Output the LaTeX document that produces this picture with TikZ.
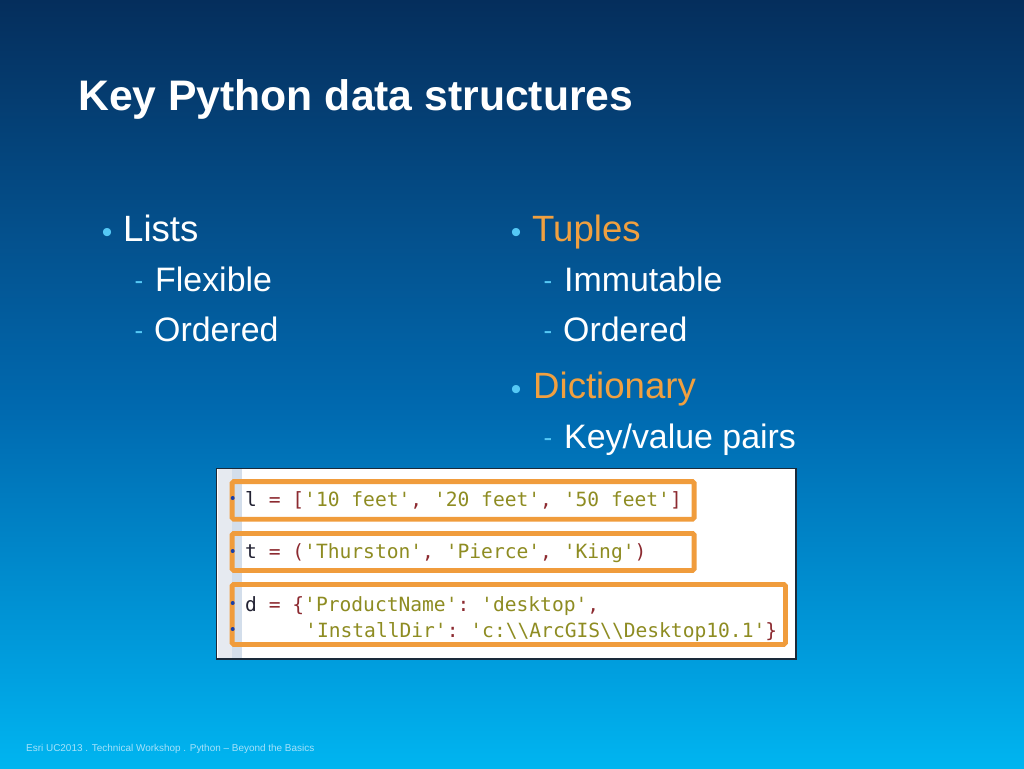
\documentclass[tikz,border=0pt]{standalone}
\usepackage{xcolor}
\usepackage{fontspec}
\usetikzlibrary{positioning,shapes,arrows,fit,calc}
\setmainfont{Liberation Sans}
\setmonofont{DejaVu Sans Mono}
\definecolor{bulletblue}{HTML}{55C8F5}
\definecolor{tupleorange}{HTML}{F0A040}
\definecolor{boxorange}{HTML}{F09C3C}
\definecolor{footblue}{HTML}{A6E2FA}
\definecolor{strolive}{HTML}{8E8C22}
\definecolor{brackred}{HTML}{8C2A30}
\definecolor{identdark}{HTML}{222233}
\definecolor{gutterblue}{HTML}{D3DEEB}
\definecolor{gutterpale}{HTML}{E6EAF0}
\definecolor{markerblue}{HTML}{1A3FA8}
\definecolor{framedark}{HTML}{1A2A3A}
\definecolor{bgone}{HTML}{00B5F0}
\definecolor{bgtwo}{HTML}{00A0E0}
\definecolor{bgthree}{HTML}{0069AF}
\definecolor{bgfour}{HTML}{04508C}
\definecolor{bgfive}{HTML}{052E5C}
\pgfdeclareverticalshading{slidebg}{100bp}{
    color(0bp)=(bgone);
    color(25bp)=(bgone);
    color(31bp)=(bgtwo);
    color(48.5bp)=(bgthree);
    color(60bp)=(bgfour);
    color(75bp)=(bgfive);
    color(100bp)=(bgfive)}
\newcommand{\str}[1]{\textcolor{strolive}{#1}}
\newcommand{\brk}[1]{\textcolor{brackred}{#1}}
\begin{document}
\begin{tikzpicture}[x=1pt, y=-1pt,
    title/.style={anchor=base west, inner sep=0pt, text=white, font=\fontsize{42.7}{42.7}\selectfont\bfseries},
    itemtext/.style={anchor=base west, inner sep=0pt, text=white, font=\fontsize{36.6}{36.6}\selectfont},
    subtext/.style={anchor=base west, inner sep=0pt, text=white, font=\fontsize{33.9}{33.9}\selectfont},
    bulletmark/.style={anchor=base west, inner sep=0pt, text=bulletblue, font=\fontsize{30}{30}\selectfont},
    dashmark/.style={anchor=base west, inner sep=0pt, text=bulletblue, font=\fontsize{26}{26}\selectfont},
    footer/.style={anchor=base west, inner sep=0pt, text=footblue, font=\fontsize{9.95}{9.95}\selectfont},
    codeline/.style={anchor=base west, inner sep=0pt, text=identdark, font=\fontsize{19.6}{19.6}\selectfont\ttfamily},
    marker/.style={circle, fill=markerblue, inner sep=0pt, minimum size=4pt},
    hilite/.style={draw=boxorange, line width=4.8pt, rounded corners=1.5pt, anchor=north west, inner sep=0pt}]

    % Background
    \useasboundingbox (0,0) rectangle (1024,768);
    \shade[shading=slidebg] (0,0) rectangle (1024,768);

    % Title
    \node[title] (heading) at (78,110) {Key Python data structures};

    % Left column
    \node[bulletmark] (listsdot) at (101.7,242) {•};
    \node[itemtext] (lists) at (123,241) {Lists};
    \node[dashmark] (flexdash) at (134.5,289) {-};
    \node[subtext] (flexible) at (155,291) {Flexible};
    \node[dashmark] (orddash) at (134.5,339) {-};
    \node[subtext] (ordered) at (154,341) {Ordered};

    % Right column
    \node[bulletmark] (tuplesdot) at (510.7,242) {•};
    \node[itemtext, text=tupleorange] (tuples) at (532,241) {Tuples};
    \node[dashmark] (immdash) at (543.5,289) {-};
    \node[subtext] (immutable) at (564,291) {Immutable};
    \node[dashmark] (orddashb) at (543.5,339) {-};
    \node[subtext] (orderedb) at (563,341) {Ordered};
    \node[bulletmark] (dictdot) at (510.7,399) {•};
    \node[itemtext, text=tupleorange] (dictionary) at (533,398) {Dictionary};
    \node[dashmark] (keydash) at (543.5,446) {-};
    \node[subtext] (keyvalue) at (564,448) {Key/value pairs};

    % Code screenshot
    \fill[framedark] (215.5,467.5) rectangle (796.5,659.5);
    \fill[white] (217,469) rectangle (795,658);
    \fill[gutterpale] (218,469) rectangle (232,658);
    \fill[gutterblue] (232,469) rectangle (241.5,658);

    % Code lines
    \node[codeline] (codel) at (245,506) {l \brk{=} \brk{[}\str{'10 feet'}\brk{,} \str{'20 feet'}\brk{,} \str{'50 feet'}\brk{]}};
    \node[codeline] (codet) at (245,558) {t \brk{=} \brk{(}\str{'Thurston'}\brk{,} \str{'Pierce'}\brk{,} \str{'King'}\brk{)}};
    \node[codeline] (coded) at (245,611) {d \brk{=} \brk{\{}\str{'ProductName'}\brk{:} \str{'desktop'}\brk{,}};
    \node[codeline] (codedb) at (305,637) {\str{'InstallDir'}\brk{:} \str{'c:\textbackslash\textbackslash ArcGIS\textbackslash\textbackslash Desktop10.1'}\brk{\}}};

    % Highlights
    \node[hilite, minimum width=462pt, minimum height=37.6pt] (boxl) at (229.7,479.2) {};
    \node[hilite, minimum width=462pt, minimum height=37pt] (boxt) at (229.7,531) {};
    \node[hilite, minimum width=553.3pt, minimum height=60pt] (boxd) at (229.7,582) {};

    % Line markers
    \node[marker] (dotl) at (232.7,498) {};
    \node[marker] (dott) at (232.7,551) {};
    \node[marker] (dotd) at (232.7,603) {};
    \node[marker] (dotdb) at (232.7,629) {};

    % Footer
    \node[footer] (foot) at (26,751) {Esri UC2013 . Technical Workshop . Python -- Beyond the Basics};
\end{tikzpicture}
\end{document}
